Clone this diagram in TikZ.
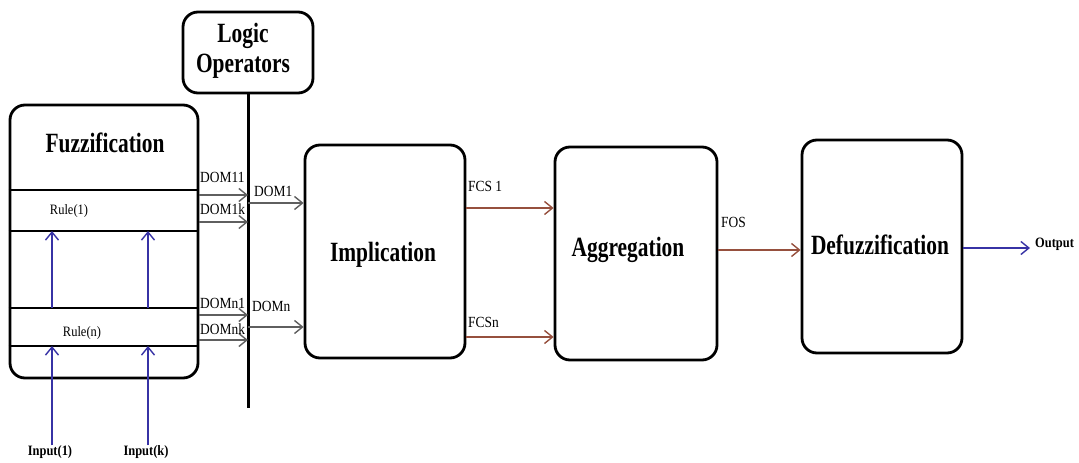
\documentclass[tikz,border=0pt]{standalone}
\usepackage{fontspec}
\setmainfont{Liberation Serif}
\usetikzlibrary{arrows.meta}
\newcommand{\talltext}[2][1.3]{\scalebox{1}[#1]{#2}}
\definecolor{domgray}{RGB}{95,95,95}
\definecolor{fcsbrown}{RGB}{150,80,62}
\definecolor{sigblue}{RGB}{55,50,165}
\begin{document}
\begin{tikzpicture}[x=1bp,y=-1bp,
  block/.style={draw,line width=2.8bp,rounded corners=15bp,inner sep=0},
  title/.style={font=\fontsize{21.5}{24}\selectfont\bfseries,inner sep=0},
  lbl/.style={font=\fontsize{13.5}{15}\selectfont,inner sep=0,anchor=base west},
  rulelbl/.style={font=\fontsize{12.5}{14}\selectfont,inner sep=0},
  iolbl/.style={font=\fontsize{12.5}{14}\selectfont\bfseries,inner sep=0},
  ruleline/.style={line width=1.4bp},
  tip/.style={-{Straight Barb[length=8bp,width=13bp,line width=1.4bp]}},
  domarrow/.style={tip,draw=domgray,line width=1.4bp},
  fcsarrow/.style={tip,draw=fcsbrown,line width=1.7bp},
  bluearrow/.style={tip,draw=sigblue,line width=1.5bp},
]
\useasboundingbox (0,0) rectangle (1079,463);

% main processing blocks
\node[block,minimum width=188bp,minimum height=273bp] (fuzz) at (104,241.5) {};
\node[block,minimum width=130bp,minimum height=81bp] (logic) at (248,52.5) {};
\node[block,minimum width=160bp,minimum height=213bp] (impl) at (385,251.5) {};
\node[block,minimum width=162bp,minimum height=213bp] (aggr) at (636,253.5) {};
\node[block,minimum width=160bp,minimum height=213bp] (defz) at (882,246.5) {};

% block titles
\node[title] (fuzzt) at (105,143) {\talltext{Fuzzification}};
\node[title,align=center] (logict) at (243,51) {\talltext{Logic}\\[4bp]\talltext{Operators}};
\node[title] (implt) at (383,255) {\talltext{Implication}};
\node[title] (aggrt) at (628,250) {\talltext{Aggregation}};
\node[title] (defzt) at (880,245) {\talltext{Defuzzification}};

% rule rows inside the fuzzification block
\foreach \yy/\nm in {190/r1a,231/r1b,308/rna,346/rnb}
  \coordinate (\nm) at (0,\yy);
\foreach \nm in {r1a,r1b,rna,rnb}
  \draw[ruleline] (\nm -| fuzz.west) -- (\nm -| fuzz.east);
\node[rulelbl] (rule1) at (69,211) {\talltext[1.15]{Rule(1)}};
\node[rulelbl] (rulen) at (82,333) {\talltext[1.15]{Rule(n)}};

% inputs
\node[iolbl] (in1) at (50,452) {\talltext[1.15]{Input(1)}};
\node[iolbl] (ink) at (146,452) {\talltext[1.15]{Input(k)}};
\coordinate (c1) at (52,0);
\coordinate (ck) at (148,0);
\draw[bluearrow] (c1 |- in1.north) -- (c1 |- rnb);
\draw[bluearrow] (ck |- ink.north) -- (ck |- rnb);
\draw[bluearrow] (c1 |- rna) -- (c1 |- r1b);
\draw[bluearrow] (ck |- rna) -- (ck |- r1b);

% logic operator bus
\coordinate (busbot) at (248,408);
\draw[line width=3bp] (logic.south) -- (busbot);

% degrees of membership into the bus
\coordinate (d11) at (248,195);
\coordinate (d1k) at (248,222);
\coordinate (dn1) at (248,315);
\coordinate (dnk) at (248,340);
\foreach \nm in {d11,d1k,dn1,dnk}
  \draw[domarrow] (\nm -| fuzz.east) -- (\nm);
\node[lbl] (l11) at (200,183) {\talltext[1.15]{DOM11}};
\node[lbl] (l1k) at (200,215) {\talltext[1.15]{DOM1k}};
\node[lbl] (ln1) at (200,309) {\talltext[1.15]{DOMn1}};
\node[lbl] (lnk) at (200,335) {\talltext[1.15]{DOMnk}};

% combined degrees into implication
\coordinate (o1) at (248,203);
\coordinate (on) at (248,327);
\draw[domarrow] (o1) -- (o1 -| impl.west);
\draw[domarrow] (on) -- (on -| impl.west);
\node[lbl] (lo1) at (254,197) {\talltext[1.15]{DOM1}};
\node[lbl] (lon) at (252,312) {\talltext[1.15]{DOMn}};

% fuzzy consequent sets
\coordinate (f1) at (0,208);
\coordinate (fn) at (0,337);
\draw[fcsarrow] (f1 -| impl.east) -- (f1 -| aggr.west);
\draw[fcsarrow] (fn -| impl.east) -- (fn -| aggr.west);
\node[lbl] (lf1) at (468,192) {\talltext[1.15]{FCS 1}};
\node[lbl] (lfn) at (468,328) {\talltext[1.15]{FCSn}};

% fuzzy output set
\coordinate (fo) at (0,250);
\draw[fcsarrow] (fo -| aggr.east) -- (fo -| defz.west);
\node[lbl] (lfo) at (721,228) {\talltext[1.15]{FOS}};

% crisp output
\coordinate (outend) at (1030,248);
\draw[bluearrow] (outend -| defz.east) -- (outend);
\node[iolbl,anchor=west] (outl) at (1035,244) {\talltext[1.15]{Output}};
\end{tikzpicture}
\end{document}
